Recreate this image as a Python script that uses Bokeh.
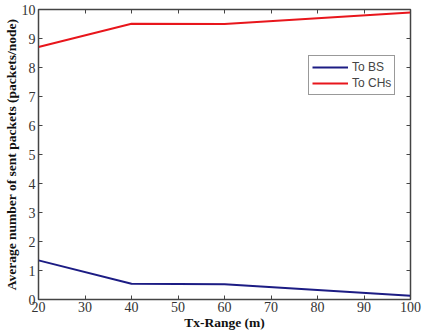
from bokeh.plotting import figure
from bokeh.models import LinearAxis, Legend, LegendItem, FixedTicker, Range1d
from bokeh.embed import file_html
from bokeh.resources import INLINE

tx_range = [20, 40, 60, 100]
to_bs = [1.35, 0.54, 0.53, 0.13]
to_chs = [8.71, 9.51, 9.5, 9.9]
x_ticks = [20, 30, 40, 50, 60, 70, 80, 90, 100]
y_ticks = [0, 1, 2, 3, 4, 5, 6, 7, 8, 9, 10]

p = figure(width=426, height=332, output_backend="svg", toolbar_location=None,
           x_range=Range1d(20, 100), y_range=Range1d(0, 10),
           min_border_left=38, min_border_right=16, min_border_top=9, min_border_bottom=31)
p.xgrid.visible = False
p.ygrid.visible = False
p.outline_line_color = "#444444"
p.outline_line_width = 1.5

serif = "Liberation Serif"
for ax, ticks in ((p.xaxis[0], x_ticks), (p.yaxis[0], y_ticks)):
    ax.ticker = FixedTicker(ticks=ticks)
    ax.major_tick_in = 4
    ax.major_tick_out = 0
    ax.minor_tick_line_color = None
    ax.axis_line_color = "#444444"
    ax.major_tick_line_color = "#444444"
    ax.major_label_text_font = serif
    ax.major_label_text_font_size = "14px"
    ax.major_label_text_color = "#333333"
    ax.axis_label_text_font = serif
    ax.axis_label_text_font_style = "bold"
    ax.axis_label_text_font_size = "13.5px"
    ax.axis_label_text_color = "#111111"

p.xaxis[0].axis_label = "Tx-Range (m)"
p.yaxis[0].axis_label = "Average number of sent packets (packets/node)"
p.xaxis[0].major_label_standoff = 2
p.xaxis[0].axis_label_standoff = 0
p.yaxis[0].major_label_standoff = 3
p.yaxis[0].axis_label_standoff = 0

top = LinearAxis(ticker=FixedTicker(ticks=x_ticks),
                 major_label_overrides={t: "" for t in x_ticks},
                 major_tick_in=4, major_tick_out=0, minor_tick_line_color=None,
                 axis_line_color="#444444", major_tick_line_color="#444444")
right = LinearAxis(ticker=FixedTicker(ticks=y_ticks),
                   major_label_overrides={t: "" for t in y_ticks},
                   major_tick_in=4, major_tick_out=0, minor_tick_line_color=None,
                   axis_line_color="#444444", major_tick_line_color="#444444")
top.major_label_standoff = 0
right.major_label_standoff = 0
p.add_layout(top, "above")
p.add_layout(right, "right")

r1 = p.line(tx_range, to_bs, line_color="#1c1c84", line_width=2)
r2 = p.line(tx_range, to_chs, line_color="#e8161c", line_width=2)

legend = Legend(items=[LegendItem(label="To BS", renderers=[r1]),
                       LegendItem(label="To CHs", renderers=[r2])],
                location=(270, 204))
legend.label_text_font = "Liberation Sans"
legend.label_text_font_size = "12px"
legend.border_line_color = "#333333"
legend.border_line_width = 1
legend.padding = 3
legend.spacing = 0
legend.glyph_width = 36
legend.glyph_height = 16
legend.label_height = 16
legend.label_width = 38
legend.label_standoff = 4
legend.margin = 0
p.add_layout(legend)

open("out.html", "w").write(file_html(p, INLINE))
